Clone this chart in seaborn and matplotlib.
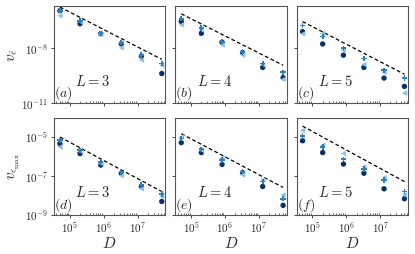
import numpy as np
import pandas as pd
import seaborn as sns
import matplotlib
matplotlib.use("Agg")
import matplotlib.pyplot as plt

# bond dimension D (x axis)
D = [5.1e4, 2.0e5, 8.2e5, 3.3e6, 1.3e7, 5.2e7]

# log10 of the variance, for each panel and series
# top row: v_eps_bar, bottom row: v_eps_max ; columns L = 3, 4, 5
dark = {
    "a": [-5.95, -6.66, -7.20, -7.75, -8.42, -9.37],
    "b": [-6.54, -7.18, -7.67, -8.23, -9.04, -9.60],
    "c": [-7.09, -7.76, -8.37, -9.04, -9.62, -10.07],
    "d": [-5.34, -5.85, -6.44, -6.86, -7.54, -8.31],
    "e": [-5.29, -5.80, -6.41, -6.83, -7.54, -8.51],
    "f": [-5.19, -5.80, -6.39, -6.86, -7.66, -8.17],
}
medium = {
    "a": [-5.95, -6.50, -7.18, -7.69, -8.37, -8.82],
    "b": [-6.39, -6.90, -7.64, -8.19, -8.82, -9.30],
    "c": [-6.76, -7.36, -8.00, -8.55, -9.19, -9.62],
    "d": [-5.17, -5.68, -6.27, -6.81, -7.46, -7.93],
    "e": [-5.08, -5.63, -6.19, -6.78, -7.29, -8.17],
    "f": [-4.95, -5.51, -6.14, -6.64, -7.20, -7.80],
}
light = {
    "a": [-6.23, -6.55, -7.25, -7.97, -8.64, -8.93],
    "b": [-6.72, -7.00, -7.82, -8.37, -8.90, -9.69],
    "c": [-7.21, -7.18, -8.10, -8.88, -9.30, -10.44],
    "d": [-5.51, -5.73, -6.36, -6.98, -7.66, -8.05],
    "e": [-5.00, -5.68, -6.10, -6.95, -7.20, -7.97],
    "f": [-4.66, -5.42, -5.85, -6.53, -7.08, -7.97],
}
# dashed guide line, log10 value at first and last D
guide = {
    "a": [-5.75, -8.60],
    "b": [-6.12, -8.92],
    "c": [-6.54, -9.41],
    "d": [-5.00, -7.80],
    "e": [-4.83, -7.59],
    "f": [-4.44, -7.29],
}
L_values = [3, 4, 5, 3, 4, 5]
panels = ["a", "b", "c", "d", "e", "f"]

sns.set_style("ticks")
plt.rcParams["font.family"] = ["serif"]
plt.rcParams["font.serif"] = ["cmr10", "DejaVu Serif"]
plt.rcParams["mathtext.fontset"] = "cm"
plt.rcParams["axes.formatter.use_mathtext"] = True
plt.rcParams["axes.edgecolor"] = "#555555"

colors = {"dark": "#08306b", "light": "#8dc0de", "medium": "#2f7ebc"}
markers = {"dark": "o", "light": "<", "medium": "P"}

rows = []
for p in panels:
    for name, src in [("dark", dark), ("light", light), ("medium", medium)]:
        for d, v in zip(D, src[p]):
            rows.append({"panel": p, "series": name, "D": d, "v": 10 ** v})
df = pd.DataFrame(rows)

fig, axes = plt.subplots(2, 3, figsize=(4.15, 2.54), dpi=100, sharex=True, sharey="row")
fig.subplots_adjust(left=0.130, right=0.983, top=0.976, bottom=0.154, wspace=0.09, hspace=0.145)

for ax, p, L in zip(axes.flat, panels, L_values):
    sub = df[df["panel"] == p]
    g = pd.DataFrame({"D": [D[0], D[-1]], "v": [10 ** x for x in guide[p]]})
    sns.lineplot(data=g, x="D", y="v", ax=ax, color="black", linestyle=(0, (3, 2)), linewidth=0.9)
    sns.scatterplot(data=sub, x="D", y="v", hue="series", style="series", palette=colors,
                    markers=markers, s=15, linewidth=0, ax=ax, legend=False, zorder=3)
    ax.set_xscale("log")
    ax.set_yscale("log")
    ax.set_xlim(3.4e4, 6.6e7)
    ax.set_xlabel("")
    ax.set_ylabel("")
    ax.text(0.35, 0.23, f"$L={L}$", transform=ax.transAxes, ha="center", va="center", fontsize=10.5)
    ax.text(0.0, 0.01, f"$({p})$", transform=ax.transAxes, ha="left", va="bottom", fontsize=10)
    ax.tick_params(axis="both", which="major", labelsize=8, length=2.5, width=0.6, pad=1.5)
    ax.tick_params(axis="x", which="minor", length=1.5, width=0.5, direction="in")
    ax.tick_params(axis="y", which="minor", length=0)
    for s in ax.spines.values():
        s.set_linewidth(0.8)

for ax in axes[0]:
    ax.set_ylim(1e-11, 2e-6)
    ax.set_yticks([1e-11, 1e-8])
for ax in axes[1]:
    ax.set_ylim(1e-9, 1e-4)
    ax.set_yticks([1e-9, 1e-7, 1e-5])
    ax.set_xticks([1e5, 1e6, 1e7])
    ax.set_xlabel("$D$", fontsize=11, labelpad=0)

axes[0, 0].set_ylabel(r"$v_{\bar{\epsilon}}$", fontsize=11, labelpad=2)
axes[1, 0].set_ylabel(r"$v_{\epsilon_{\max}}$", fontsize=11, labelpad=2)

fig.savefig("out.png", dpi=100)
